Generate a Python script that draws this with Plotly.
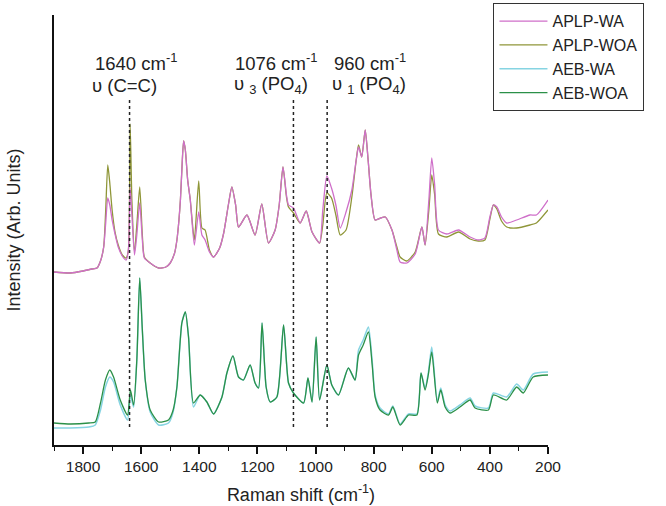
import plotly.graph_objects as go

# ---------------- data (intensity in arbitrary units) ----------------
wn_top = [1900, 1844, 1800, 1770, 1752, 1740, 1729, 1722, 1715, 1708, 1700, 1690, 1679, 1665,
          1652, 1644, 1638, 1632, 1623, 1615, 1605, 1596, 1589, 1569, 1540, 1515, 1500, 1485,
          1477, 1470, 1465, 1460, 1454, 1448, 1440, 1431, 1417, 1402, 1391, 1380, 1365, 1351,
          1330, 1316, 1300, 1288, 1275, 1265, 1236, 1208, 1185, 1162, 1139, 1125, 1112, 1100,
          1093, 1076, 1053, 1032, 1012, 986, 975, 961, 945, 930, 915, 895, 875, 860, 852,
          841, 829, 819, 809, 795, 775, 760, 737, 720, 709, 686, 657, 634, 623, 610, 600, 590,
          577, 548, 508, 468, 440, 417, 400, 388, 376, 360, 342, 308, 262, 240, 200]
aplp_wa = [173, 172, 174, 176, 177, 184, 198, 222, 247, 240, 225, 211, 198, 189,
           185, 195, 257, 230, 190, 210, 242, 205, 187, 182, 177, 178, 182, 192,
           205, 225, 245, 275, 304, 295, 265, 245, 200, 233, 210, 205, 193, 188,
           197, 212, 240, 258, 240, 218, 230, 210, 241, 202, 215, 240, 278, 250,
           240, 237, 222, 234, 213, 202, 235, 269, 257, 240, 217, 233, 255, 285, 298,
           288, 315, 285, 250, 225, 227, 228, 215, 195, 183, 182, 191, 218, 200, 245, 287, 260,
           215, 211, 215, 208, 205, 207, 228, 240, 238, 228, 222, 225, 230, 230, 245]
aplp_woa = [173, 172, 174, 176, 177, 184, 198, 235, 280, 262, 235, 213, 200, 190,
            187, 195, 321, 245, 193, 220, 258, 210, 188, 182, 177, 178, 182, 192,
            205, 225, 245, 275, 304, 295, 265, 245, 205, 264, 217, 215, 195, 188,
            197, 212, 240, 258, 240, 218, 230, 210, 241, 202, 215, 240, 278, 248,
            238, 232, 222, 234, 213, 202, 220, 252, 247, 230, 210, 215, 248, 285, 300,
            288, 315, 285, 250, 225, 227, 228, 215, 198, 188, 184, 193, 218, 200, 235, 270, 250,
            211, 208, 213, 206, 204, 205, 226, 240, 236, 224, 218, 217, 220, 222, 235]

wn_bot = [1900, 1844, 1780, 1758, 1740, 1723, 1708, 1695, 1672, 1647, 1637, 1626, 1615, 1605,
          1596, 1586, 1569, 1540, 1506, 1490, 1477, 1460, 1448, 1437, 1420, 1397, 1374, 1351,
          1322, 1305, 1284, 1265, 1248, 1225, 1208, 1196, 1184, 1170, 1156, 1133, 1110, 1093,
          1076, 1041, 1026, 1012, 998, 986, 961, 944, 921, 887, 864, 852, 836, 818, 805, 795,
          778, 749, 734, 709, 680, 651, 637, 623, 612, 600, 581, 569, 554, 537, 503, 468, 451,
          405, 388, 342, 308, 285, 251, 200]
aeb_woa = [22, 21, 22, 23, 42, 65, 75, 68, 45, 30, 55, 40, 85, 167,
           115, 65, 35, 23, 25, 35, 58, 122, 133, 108, 42, 50, 43, 31,
           48, 72, 89, 68, 65, 80, 62, 57, 122, 58, 43, 48, 120, 62,
           52, 42, 67, 43, 108, 45, 80, 60, 50, 77, 65, 90, 100, 113, 80, 48,
           35, 30, 38, 20, 30, 30, 72, 55, 70, 93, 42, 55, 38, 32, 38, 45, 37,
           35, 50, 45, 58, 52, 68, 70]
aeb_wa = [17, 17, 18, 20, 35, 58, 68, 63, 40, 25, 50, 38, 85, 167,
          115, 65, 33, 20, 22, 33, 58, 122, 133, 108, 38, 50, 43, 31,
          48, 72, 89, 68, 65, 80, 62, 57, 122, 58, 43, 48, 120, 62,
          52, 42, 67, 43, 108, 45, 80, 60, 50, 77, 65, 95, 105, 118, 84, 50,
          37, 31, 39, 21, 31, 31, 72, 57, 72, 98, 44, 57, 40, 34, 40, 47, 39,
          37, 52, 48, 61, 55, 71, 73]

peak_positions = [1640, 1076, 960]
peak_line1 = ["1640 cm<sup>-1</sup>", "1076 cm<sup>-1</sup>", "960 cm<sup>-1</sup>"]
peak_line2 = ["\u03c5 (C=C)", "\u03c5 <sub>3</sub> (PO<sub>4</sub>)", "\u03c5 <sub>1</sub> (PO<sub>4</sub>)"]
label_x1 = [1765, 1283, 944]
label_x2 = [1775, 1287, 950]

FONT = "Liberation Sans, Arial, sans-serif"
TXT = "#222222"

fig = go.Figure()
# drawing order: olive under pink, cyan under green
fig.add_trace(go.Scatter(x=wn_top, y=aplp_woa, mode="lines", name="APLP-WOA", legendrank=2,
                         line=dict(color="#8f9638", width=1.3, shape="spline", smoothing=0.6)))
fig.add_trace(go.Scatter(x=wn_top, y=aplp_wa, mode="lines", name="APLP-WA", legendrank=1,
                         line=dict(color="#cf6fc9", width=1.3, shape="spline", smoothing=0.6)))
fig.add_trace(go.Scatter(x=wn_bot, y=aeb_wa, mode="lines", name="AEB-WA", legendrank=3,
                         line=dict(color="#86d4e2", width=1.5, shape="spline", smoothing=0.6)))
fig.add_trace(go.Scatter(x=wn_bot, y=aeb_woa, mode="lines", name="AEB-WOA", legendrank=4,
                         line=dict(color="#2b9048", width=1.3, shape="spline", smoothing=0.6)))

for p in peak_positions:
    fig.add_shape(type="line", x0=p, x1=p, y0=18, y1=346, xref="x", yref="y",
                  line=dict(color="#222222", width=1.5, dash="dot"))

for t1, t2, a1, a2 in zip(peak_line1, peak_line2, label_x1, label_x2):
    fig.add_annotation(x=a1, y=0.891, xref="x", yref="paper", text=t1, showarrow=False,
                       xanchor="left", yanchor="middle", font=dict(family=FONT, size=18.5, color=TXT))
    fig.add_annotation(x=a2, y=0.837, xref="x", yref="paper", text=t2, showarrow=False,
                       xanchor="left", yanchor="middle", font=dict(family=FONT, size=18.5, color=TXT))

fig.update_layout(
    width=666, height=506,
    margin=dict(l=54, r=118, t=15, b=61, autoexpand=False),
    paper_bgcolor="white", plot_bgcolor="white",
    font=dict(family=FONT, color=TXT),
    showlegend=True,
    legend=dict(x=0.889, y=1.028, xanchor="left", yanchor="top",
                bordercolor="#333333", borderwidth=1.3, bgcolor="white",
                font=dict(family=FONT, size=16, color=TXT), itemwidth=48),
    xaxis=dict(range=[1900, 200], tick0=200, dtick=200, showgrid=False, zeroline=False,
               showline=True, linecolor="#111111", linewidth=1.6,
               ticks="outside", ticklen=7, tickwidth=1.5, tickcolor="#111111",
               tickfont=dict(family=FONT, size=15.5, color=TXT), automargin=False,
               minor=dict(dtick=100, ticks="outside", ticklen=4, tickwidth=1.3, tickcolor="#111111"),
               title=dict(text="Raman shift (cm<sup>-1</sup>)", font=dict(family=FONT, size=18, color=TXT),
                          standoff=14)),
    yaxis=dict(range=[0, 430], showgrid=False, zeroline=False, showticklabels=False,
               showline=True, linecolor="#111111", linewidth=1.6, ticks="", automargin=False,
               title=dict(text="Intensity (Arb. Units)", font=dict(family=FONT, size=18, color=TXT),
                          standoff=27)),
)

fig.write_html("out.html", config={"displayModeBar": False},
               post_script="document.body.style.margin='0px';")
